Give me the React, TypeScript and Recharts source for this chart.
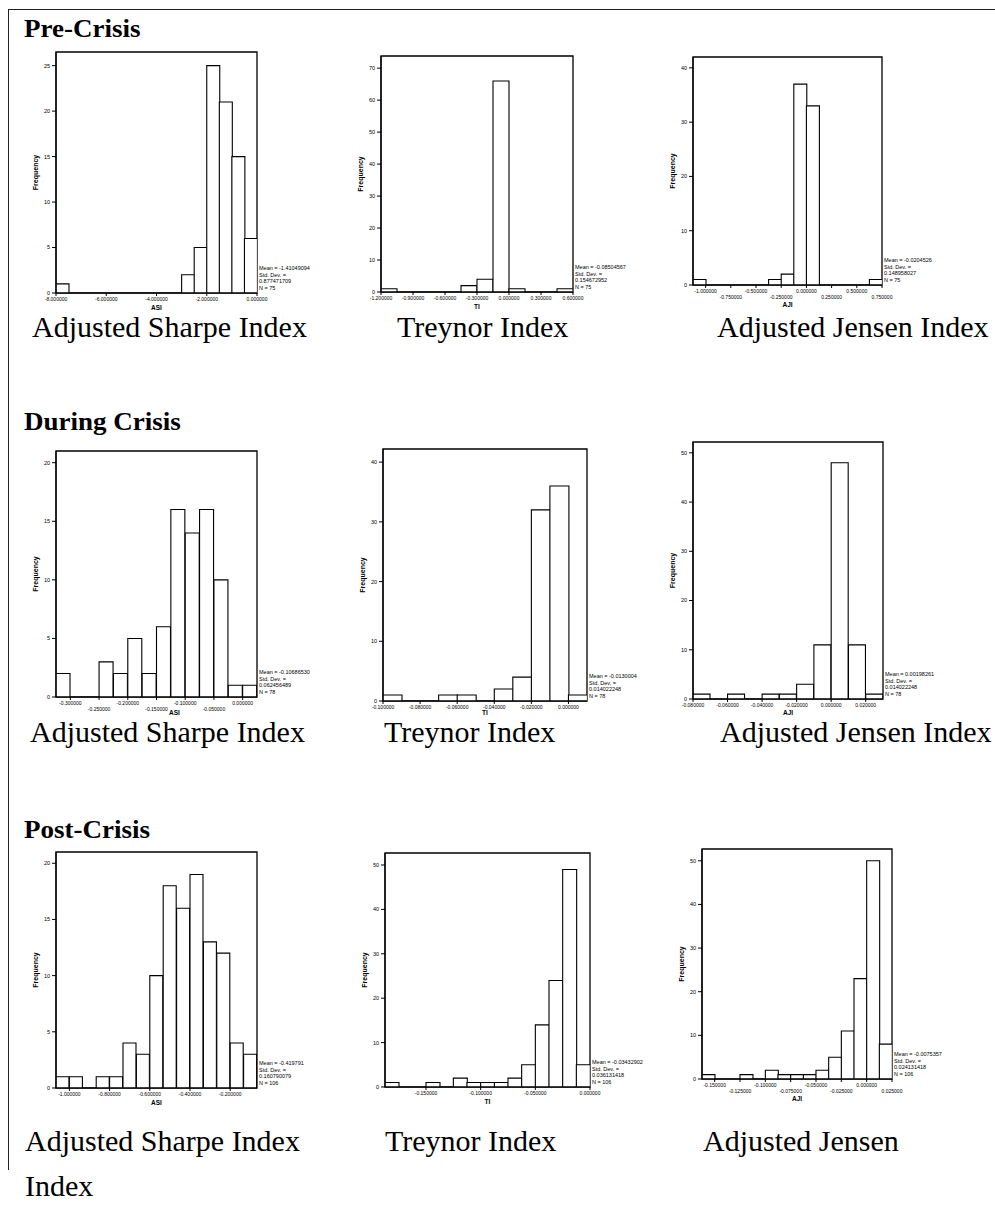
import React from 'react';
import { BarChart, Bar, XAxis, YAxis, ReferenceArea } from 'recharts';

// ---------- DATA ----------
// Pre-Crisis
const preAsiBinStart = -8;
const preAsiBinWidth = 0.5;
const preAsiCounts = [1, 0, 0, 0, 0, 0, 0, 0, 0, 0, 2, 5, 25, 21, 15, 6];
const preAsiXTicks = [-8, -6, -4, -2, 0];
const preAsiYTicks = [0, 5, 10, 15, 20, 25];
const preAsiStats = ['Mean = -1.41049094', 'Std. Dev. =', '0.877471709', 'N = 75'];

const preTiBinStart = -1.2;
const preTiBinWidth = 0.15;
const preTiCounts = [1, 0, 0, 0, 0, 2, 4, 66, 1, 0, 0, 1];
const preTiXTicks = [-1.2, -0.9, -0.6, -0.3, 0, 0.3, 0.6];
const preTiYTicks = [0, 10, 20, 30, 40, 50, 60, 70];
const preTiStats = ['Mean = -0.08504567', 'Std. Dev. =', '0.154672952', 'N = 75'];

const preAjiBinStart = -1.125;
const preAjiBinWidth = 0.125;
const preAjiCounts = [1, 0, 0, 0, 0, 0, 1, 2, 37, 33, 0, 0, 0, 0, 1];
const preAjiXTicks = [-1, -0.75, -0.5, -0.25, 0, 0.25, 0.5, 0.75];
const preAjiYTicks = [0, 10, 20, 30, 40];
const preAjiStats = ['Mean = -0.0204526', 'Std. Dev. =', '0.148958027', 'N = 75'];

// During Crisis
const durAsiBinStart = -0.325;
const durAsiBinWidth = 0.025;
const durAsiCounts = [2, 0, 0, 3, 2, 5, 2, 6, 16, 14, 16, 10, 1, 1];
const durAsiXTicks = [-0.3, -0.25, -0.2, -0.15, -0.1, -0.05, 0];
const durAsiYTicks = [0, 5, 10, 15, 20];
const durAsiStats = ['Mean = -0.10686530', 'Std. Dev. =', '0.062456489', 'N = 78'];

const durTiBinStart = -0.1;
const durTiBinWidth = 0.01;
const durTiCounts = [1, 0, 0, 1, 1, 0, 2, 4, 32, 36, 1];
const durTiXTicks = [-0.1, -0.08, -0.06, -0.04, -0.02, 0];
const durTiYTicks = [0, 10, 20, 30, 40];
const durTiStats = ['Mean = -0.0130004', 'Std. Dev. =', '0.014022248', 'N = 78'];

const durAjiBinStart = -0.08;
const durAjiBinWidth = 0.01;
const durAjiCounts = [1, 0, 1, 0, 1, 1, 3, 11, 48, 11, 1];
const durAjiXTicks = [-0.08, -0.06, -0.04, -0.02, 0, 0.02];
const durAjiYTicks = [0, 10, 20, 30, 40, 50];
const durAjiStats = ['Mean = 0.00198261', 'Std. Dev. =', '0.014022248', 'N = 78'];

// Post-Crisis
const postAsiBinStart = -1 - 1 / 15;
const postAsiBinWidth = 1 / 15;
const postAsiCounts = [1, 1, 0, 1, 1, 4, 3, 10, 18, 16, 19, 13, 12, 4, 3];
const postAsiXTicks = [-1, -0.8, -0.6, -0.4, -0.2];
const postAsiYTicks = [0, 5, 10, 15, 20];
const postAsiStats = ['Mean = -0.419791', 'Std. Dev. =', '0.160790079', 'N = 106'];

const postTiBinStart = -0.1875;
const postTiBinWidth = 0.0125;
const postTiCounts = [1, 0, 0, 1, 0, 2, 1, 1, 1, 2, 5, 14, 24, 49, 5];
const postTiXTicks = [-0.15, -0.1, -0.05, 0];
const postTiYTicks = [0, 10, 20, 30, 40, 50];
const postTiStats = ['Mean = -0.03432902', 'Std. Dev. =', '0.036131418', 'N = 106'];

const postAjiBinStart = -0.1625;
const postAjiBinWidth = 0.0125;
const postAjiCounts = [1, 0, 0, 1, 0, 2, 1, 1, 1, 2, 5, 11, 23, 50, 8];
const postAjiXTicks = [-0.15, -0.125, -0.1, -0.075, -0.05, -0.025, 0, 0.025];
const postAjiYTicks = [0, 10, 20, 30, 40, 50];
const postAjiStats = ['Mean = -0.0075357', 'Std. Dev. =', '0.024131418', 'N = 106'];

const sectionTitles = ['Pre-Crisis', 'During Crisis', 'Post-Crisis'];

// ---------- LAYOUT ----------
type Panel = {
  counts: number[];
  lo: number;
  w: number;
  xTicks: number[];
  yTicks: number[];
  yMax: number;
  stats: string[];
  xLabel: string;
  stagger: boolean;
  rect: [number, number, number, number];
  xH: number;
  labelDx: number;
};

const panels: Panel[] = [
  { counts: preAsiCounts, lo: preAsiBinStart, w: preAsiBinWidth, xTicks: preAsiXTicks, yTicks: preAsiYTicks, yMax: 26.5, stats: preAsiStats, xLabel: 'ASI', stagger: false, rect: [56, 52, 257, 293], xH: 17, labelDx: 0 },
  { counts: preTiCounts, lo: preTiBinStart, w: preTiBinWidth, xTicks: preTiXTicks, yTicks: preTiYTicks, yMax: 73.8, stats: preTiStats, xLabel: 'TI', stagger: false, rect: [381, 56, 573, 292], xH: 17, labelDx: 0 },
  { counts: preAjiCounts, lo: preAjiBinStart, w: preAjiBinWidth, xTicks: preAjiXTicks, yTicks: preAjiYTicks, yMax: 42, stats: preAjiStats, xLabel: 'AJI', stagger: true, rect: [693, 57, 882, 285], xH: 22, labelDx: 0 },
  { counts: durAsiCounts, lo: durAsiBinStart, w: durAsiBinWidth, xTicks: durAsiXTicks, yTicks: durAsiYTicks, yMax: 21, stats: durAsiStats, xLabel: 'ASI', stagger: true, rect: [56, 451, 257, 697], xH: 18, labelDx: 18 },
  { counts: durTiCounts, lo: durTiBinStart, w: durTiBinWidth, xTicks: durTiXTicks, yTicks: durTiYTicks, yMax: 42.2, stats: durTiStats, xLabel: 'TI', stagger: false, rect: [383, 449, 587, 701], xH: 14, labelDx: 0 },
  { counts: durAjiCounts, lo: durAjiBinStart, w: durAjiBinWidth, xTicks: durAjiXTicks, yTicks: durAjiYTicks, yMax: 52.2, stats: durAjiStats, xLabel: 'AJI', stagger: false, rect: [693, 442, 883, 699], xH: 16, labelDx: 0 },
  { counts: postAsiCounts, lo: postAsiBinStart, w: postAsiBinWidth, xTicks: postAsiXTicks, yTicks: postAsiYTicks, yMax: 21, stats: postAsiStats, xLabel: 'ASI', stagger: false, rect: [56, 852, 257, 1088], xH: 17, labelDx: 0 },
  { counts: postTiCounts, lo: postTiBinStart, w: postTiBinWidth, xTicks: postTiXTicks, yTicks: postTiYTicks, yMax: 52.7, stats: postTiStats, xLabel: 'TI', stagger: false, rect: [385, 853, 590, 1087], xH: 17, labelDx: 0 },
  { counts: postAjiCounts, lo: postAjiBinStart, w: postAjiBinWidth, xTicks: postAjiXTicks, yTicks: postAjiYTicks, yMax: 52.7, stats: postAjiStats, xLabel: 'AJI', stagger: true, rect: [702, 849, 892, 1079], xH: 22, labelDx: 0 },
];

const captions: { text: string; x: number; y: number }[] = [
  { text: 'Adjusted Sharpe Index', x: 32, y: 315 },
  { text: 'Treynor Index', x: 397, y: 315 },
  { text: 'Adjusted Jensen Index', x: 717, y: 315 },
  { text: 'Adjusted Sharpe Index', x: 30, y: 720 },
  { text: 'Treynor Index', x: 384, y: 720 },
  { text: 'Adjusted Jensen Index', x: 720, y: 720 },
  { text: 'Adjusted Sharpe Index', x: 25, y: 1129 },
  { text: 'Treynor Index', x: 385, y: 1129 },
  { text: 'Adjusted Jensen', x: 703, y: 1129 },
  { text: 'Index', x: 25, y: 1174 },
];

const titleTops = [16, 409, 817];

const SANS = "'Liberation Sans', Arial, sans-serif";
const SERIF = "'Liberation Serif', 'Times New Roman', serif";

function XTick(props: any) {
  const { x, y, payload, index, stagger } = props;
  const dy = stagger && index % 2 === 1 ? 6 : 0;
  return (
    <text x={x} y={y + 3 + dy} textAnchor="middle" fontSize={5} fill="#000" fontFamily={SANS}>
      {Number(payload.value).toFixed(6)}
    </text>
  );
}

function Hist({ p }: { p: Panel }) {
  const [L, T, R, B] = p.rect;
  const plotW = R - L;
  const plotH = B - T;
  const yW = 24;
  const mTop = 3;
  const mRight = 30;
  const xH = p.xH;
  const hi = p.lo + p.w * p.counts.length;
  const data = p.counts.map((c, i) => ({ mid: p.lo + (i + 0.5) * p.w, count: c }));
  return (
    <>
      <div style={{ position: 'absolute', left: L - yW, top: T - mTop }}>
        <BarChart
          width={yW + plotW + mRight}
          height={mTop + plotH + xH}
          data={data}
          margin={{ top: mTop, right: mRight, bottom: 0, left: 0 }}
          barCategoryGap={0}
          barGap={0}
        >
          <XAxis
            dataKey="mid"
            type="number"
            domain={[p.lo, hi]}
            allowDataOverflow
            ticks={p.xTicks}
            interval={0}
            height={xH}
            tickSize={3}
            tickLine={{ stroke: '#000' }}
            axisLine={{ stroke: '#000', strokeWidth: 1.2 }}
            tick={(tp: any) => <XTick {...tp} stagger={p.stagger} />}
            label={{ value: p.xLabel, position: 'insideBottom', offset: 0, dx: p.labelDx, style: { fontSize: 6.5, fontFamily: SANS, fill: '#000', fontWeight: 'bold' } }}
          />
          <YAxis
            type="number"
            domain={[0, p.yMax]}
            allowDataOverflow
            ticks={p.yTicks}
            interval={0}
            width={yW}
            tickSize={4}
            tickLine={{ stroke: '#000' }}
            axisLine={{ stroke: '#000', strokeWidth: 1.2 }}
            tick={{ fontSize: 5.5, fill: '#000', fontFamily: SANS }}
            label={{ value: 'Frequency', angle: -90, position: 'insideLeft', offset: 4, style: { fontSize: 7, fontFamily: SANS, fill: '#000', fontWeight: 'bold', textAnchor: 'middle' } }}
          />
          <ReferenceArea x1={p.lo} x2={hi} y1={0} y2={p.yMax} fill="none" fillOpacity={0} stroke="#000" strokeWidth={1.3} />
          <Bar dataKey="count" fill="#fff" stroke="#000" strokeWidth={1.1} isAnimationActive={false} />
        </BarChart>
      </div>
      <div
        style={{
          position: 'absolute',
          left: R + 2,
          top: B - 2 - 26,
          fontFamily: SANS,
          fontSize: 5.5,
          lineHeight: '6.5px',
          color: '#000',
          whiteSpace: 'nowrap',
        }}
      >
        {p.stats.map((s, i) => (
          <div key={i}>{s}</div>
        ))}
      </div>
    </>
  );
}

export default function App() {
  return (
    <div
      style={{
        position: 'absolute',
        left: 0,
        top: 0,
        width: 995,
        height: 1223,
        background: '#fff',
        overflow: 'hidden',
        fontFamily: SERIF,
      }}
    >
      <div
        style={{
          position: 'absolute',
          left: 8,
          top: 9,
          width: 990,
          height: 1160,
          borderTop: '1.5px solid #222',
          borderLeft: '1.5px solid #222',
        }}
      />
      {sectionTitles.map((t, i) => (
        <div
          key={t}
          style={{
            position: 'absolute',
            left: 24,
            top: titleTops[i],
            fontSize: 25,
            lineHeight: '25px',
            fontWeight: 'bold',
            whiteSpace: 'nowrap',
            transform: 'scaleX(1.08)',
            transformOrigin: 'left top',
            color: '#000',
          }}
        >
          {t}
        </div>
      ))}
      {captions.map((c, i) => (
        <div
          key={i}
          style={{
            position: 'absolute',
            left: c.x,
            top: c.y,
            fontSize: 30,
            lineHeight: '24px',
            whiteSpace: 'nowrap',
            color: '#000',
          }}
        >
          {c.text}
        </div>
      ))}
      {panels.map((p, i) => (
        <Hist key={i} p={p} />
      ))}
    </div>
  );
}
